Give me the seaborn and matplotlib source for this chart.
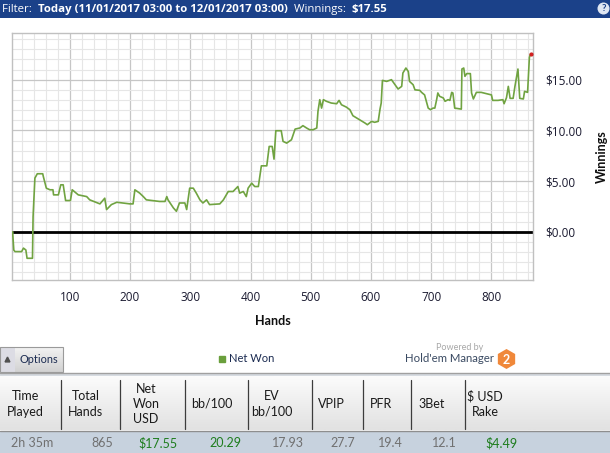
import numpy as np
import pandas as pd
import matplotlib
matplotlib.use("Agg")
import matplotlib.pyplot as plt
from matplotlib.patches import Rectangle, RegularPolygon, Circle
from matplotlib.ticker import MultipleLocator, FuncFormatter
import seaborn as sns

# Net won curve (hand number, cumulative $)
hands = [1, 5, 7, 9, 20, 23, 27, 29, 38, 39, 42, 46, 55, 56, 61, 67, 72, 73, 81, 85,
         89, 93, 101, 104, 114, 128, 133, 150, 158, 161, 169, 178, 200, 205, 208, 216,
         222, 227, 249, 258, 261, 263, 272, 277, 282, 291, 294, 299, 305, 310, 316, 321,
         327, 332, 349, 355, 363, 371, 379, 382, 388, 393, 396, 402, 407, 413, 418, 427,
         431, 436, 439, 442, 451, 454, 460, 468, 474, 482, 487, 493, 498, 504, 510, 512,
         515, 518, 521, 526, 534, 543, 547, 551, 559, 565, 570, 581, 590, 594, 601, 606,
         612, 615, 617, 619, 626, 634, 640, 645, 651, 653, 658, 662, 664, 670, 673, 681,
         684, 689, 695, 699, 703, 706, 709, 711, 714, 720, 723, 728, 731, 734, 736, 739,
         750, 751, 754, 756, 759, 765, 767, 770, 775, 783, 792, 800, 802, 811, 819, 821,
         825, 828, 831, 836, 839, 844, 847, 853, 855, 860, 863, 865]
net_won = [0.0, 0.0, -1.8, -1.94, -1.94, -1.6, -1.78, -2.6, -2.6, 1.5, 5.3, 5.73, 5.73,
           5.46, 4.31, 4.15, 4.15, 3.65, 3.65, 4.64, 4.64, 3.09, 3.09, 4.15, 3.65, 3.48,
           3.16, 2.76, 3.32, 2.2, 2.69, 2.92, 2.76, 2.76, 4.15, 3.82, 3.48, 3.16, 3.0, 3.0,
           3.48, 3.16, 2.36, 2.03, 2.85, 2.85, 2.2, 4.31, 4.31, 3.82, 3.16, 2.85, 3.16,
           2.69, 2.76, 3.16, 3.98, 3.98, 4.47, 3.82, 3.98, 3.48, 4.31, 4.8, 4.47, 4.47,
           6.51, 6.51, 8.42, 8.42, 7.17, 9.97, 9.97, 8.92, 8.75, 9.08, 10.13, 10.24, 10.47,
           10.24, 10.07, 10.07, 10.24, 11.88, 13.03, 12.2, 13.03, 12.87, 12.7, 12.63, 12.96,
           12.53, 12.3, 12.04, 11.45, 11.05, 10.73, 10.56, 10.89, 10.8, 10.89, 12.1, 12.7,
           14.93, 14.83, 15.0, 14.5, 14.08, 14.34, 15.66, 16.15, 15.8, 14.83, 14.5, 14.0,
           13.95, 13.75, 13.5, 12.2, 12.04, 12.2, 12.2, 13.03, 13.69, 13.36, 13.2, 12.87,
           13.03, 12.96, 13.75, 13.69, 12.2, 12.1, 16.05, 16.15, 15.33, 15.6, 15.6, 13.69,
           13.1, 13.75, 13.75, 13.62, 13.5, 12.96, 12.96, 13.03, 12.63, 13.23, 14.34, 13.16,
           13.16, 14.34, 16.05, 13.16, 13.1, 13.85, 13.75, 17.2, 17.55]

col_headers = ["Time\nPlayed", "Total\nHands", "Net\nWon\nUSD", "bb/100", "EV\nbb/100",
               "VPIP", "PFR", "3Bet", "$ USD\nRake"]
row_values = ["2h 35m", "865", "$17.55", "20.29", "17.93", "27.7", "19.4", "12.1", "$4.49"]
green_cols = [2, 3, 8]

title_parts = [("Filter: ", "normal"), ("Today (11/01/2017 03:00 to 12/01/2017 03:00) ", "bold"),
               ("Winnings: ", "normal"), ("$17.55", "bold")]

# layout (pixels)
W, H = 610, 453
plot_box = (12, 33, 533, 280)  # left, top, right, bottom
col_dividers = [61, 120, 185, 248, 312, 363, 411, 465]
header_pos = [(7, "left"), (68, "left"), (146, "center"), (191, "left"), (272, "center"),
              (318, "left"), (370, "left"), (418, "left"), (485, "center")]
value_right = [53, 113, 178, 241, 304, 355, 403, 457, 518]

sns.set_theme(style="white")
plt.rcParams["font.family"] = ["Lato", "DejaVu Sans"]
plt.rcParams["text.parse_math"] = False

fig = plt.figure(figsize=(W / 100, H / 100), dpi=100)
fig.patch.set_facecolor("white")

# overlay in pixel coordinates for the window chrome and the stats table
ov = fig.add_axes([0, 0, 1, 1], zorder=0)
ov.set_xlim(0, W)
ov.set_ylim(H, 0)
ov.axis("off")

# title bar
ov.add_patch(Rectangle((0, 0), W, 18, color="#1b4189", lw=0))
ov.add_patch(Circle((603.5, 8.5), 6, color="#dfe6f2", lw=0))
ov.text(603.5, 8.8, "?", color="#1b4189", fontsize=7, fontweight="bold", ha="center", va="center")
fig.canvas.draw()
renderer = fig.canvas.get_renderer()
xcur = 2
for txt, wt in title_parts:
    t = ov.text(xcur, 9.5, txt, color="white", fontsize=8.2, fontweight=wt,
                ha="left", va="center", family=["Open Sans", "DejaVu Sans"])
    bb = t.get_window_extent(renderer=renderer)
    xcur += bb.width + (3 if txt.endswith(" ") else 0)

# options button, legend, branding
grad = np.linspace(0, 1, 20).reshape(-1, 1)
ov.imshow(grad, extent=(0, 63, 372, 347), cmap=plt.cm.colors.LinearSegmentedColormap.from_list(
    "btn", ["#f2f2f2", "#d2d2d2"]), aspect="auto", zorder=1)
ov.add_patch(Rectangle((0, 347), 63, 25, fill=False, ec="#9a9a9a", lw=0.8, zorder=2))
ov.add_patch(Rectangle((0, 347), 15, 25, color="#dcdce4", lw=0, zorder=1.5))
ov.plot([7], [359], marker="^", ms=3.5, color="#505050", zorder=3)
ov.text(19, 359.5, "Options", fontsize=7.8, color="#1a2a50", va="center", ha="left", zorder=3)

ov.plot([222], [358.5], marker="s", ms=5, color="#6a9f3c", zorder=3)
ov.text(229, 359, "Net Won", fontsize=8, color="#1a2a50", va="center", ha="left")

ov.text(483, 347, "Powered by", fontsize=6.5, color="#a8a8a8", va="center", ha="right")
ov.text(494, 359, "Hold'em Manager", fontsize=8.2, color="#3a4a62", va="center", ha="right")
ov.add_patch(RegularPolygon((506.5, 359), 6, radius=10, color="#f0883a", lw=0))
ov.text(506.5, 359.5, "2", fontsize=9, color="white", fontweight="bold", ha="center", va="center")

# stats table
ov.plot([0, W], [372.5, 372.5], color="#a0a0a0", lw=1)
ov.add_patch(Rectangle((0, 373), W, 3, color="#d6dbe1", lw=0))
ov.imshow(grad, extent=(0, W, 430, 376), cmap=plt.cm.colors.LinearSegmentedColormap.from_list(
    "hdr", ["#fbfbfb", "#e2e2e2"]), aspect="auto", zorder=1)
ov.plot([0, W], [430.5, 430.5], color="#8e8e8e", lw=1, zorder=2)
ov.add_patch(Rectangle((0, 431), W, 22, color="#c7d2de", lw=0, zorder=1))
for xd in col_dividers:
    ov.plot([xd, xd], [380, 429], color="#3c3c3c", lw=0.9, zorder=2)
for (xh, ha), lab in zip(header_pos, col_headers):
    ov.text(xh, 404, lab, fontsize=9, color="#1a1a1a", ha=ha, va="center",
            multialignment="center", linespacing=1.3, zorder=3)
for i, (xr, val) in enumerate(zip(value_right, row_values)):
    ov.text(xr, 443, val, fontsize=9, color="#1e7d1e" if i in green_cols else "#707070",
            ha="right", va="center", zorder=3)

# main chart
l, t, r, b = plot_box
ax = fig.add_axes([l / W, 1 - b / H, (r - l) / W, (b - t) / H], zorder=2)
ax.set_facecolor("white")
df = pd.DataFrame({"Hands": hands, "Net Won": net_won})
sns.lineplot(data=df, x="Hands", y="Net Won", ax=ax, color="#70a341", lw=1.2, zorder=3)
ax.plot(hands[-1:], net_won[-1:], marker="o", ms=2, color="#d02020", zorder=4)
ax.axhline(0, color="black", lw=2, zorder=2)

ax.set_xlim(4, 869)
ax.set_ylim(-4.74, 19.6)
ax.xaxis.set_major_locator(MultipleLocator(100))
ax.xaxis.set_minor_locator(MultipleLocator(20))
ax.yaxis.set_major_locator(MultipleLocator(5))
ax.yaxis.set_minor_locator(MultipleLocator(1))
ax.yaxis.set_major_formatter(FuncFormatter(lambda v, p: f"${v:.2f}"))
ax.grid(which="major", color="#c6c6c6", lw=0.9)
ax.grid(which="minor", color="#e6e6e6", lw=0.8)
ax.set_axisbelow(True)
ax.yaxis.tick_right()
ax.yaxis.set_label_position("right")
ax.tick_params(which="both", length=0)
ax.tick_params(axis="x", pad=8, labelsize=8.5, labelcolor="#1a1a30")
ax.tick_params(axis="y", pad=9, labelsize=8.5, labelcolor="#1a1a30")
for lab in ax.get_xticklabels():
    lab.set_family(["Open Sans", "DejaVu Sans"])
for lab in ax.get_yticklabels():
    lab.set_family(["Open Sans", "DejaVu Sans"])
ax.set_xlabel("Hands", fontsize=9, fontweight="bold", color="#101010", labelpad=8)
ax.set_ylabel("Winnings", fontsize=9, fontweight="bold", color="#101010", labelpad=10,
              rotation=90)
for s in ax.spines.values():
    s.set_color("#c0c0c0")
    s.set_linewidth(1)

fig.savefig("out.png", dpi=100, facecolor="white")
